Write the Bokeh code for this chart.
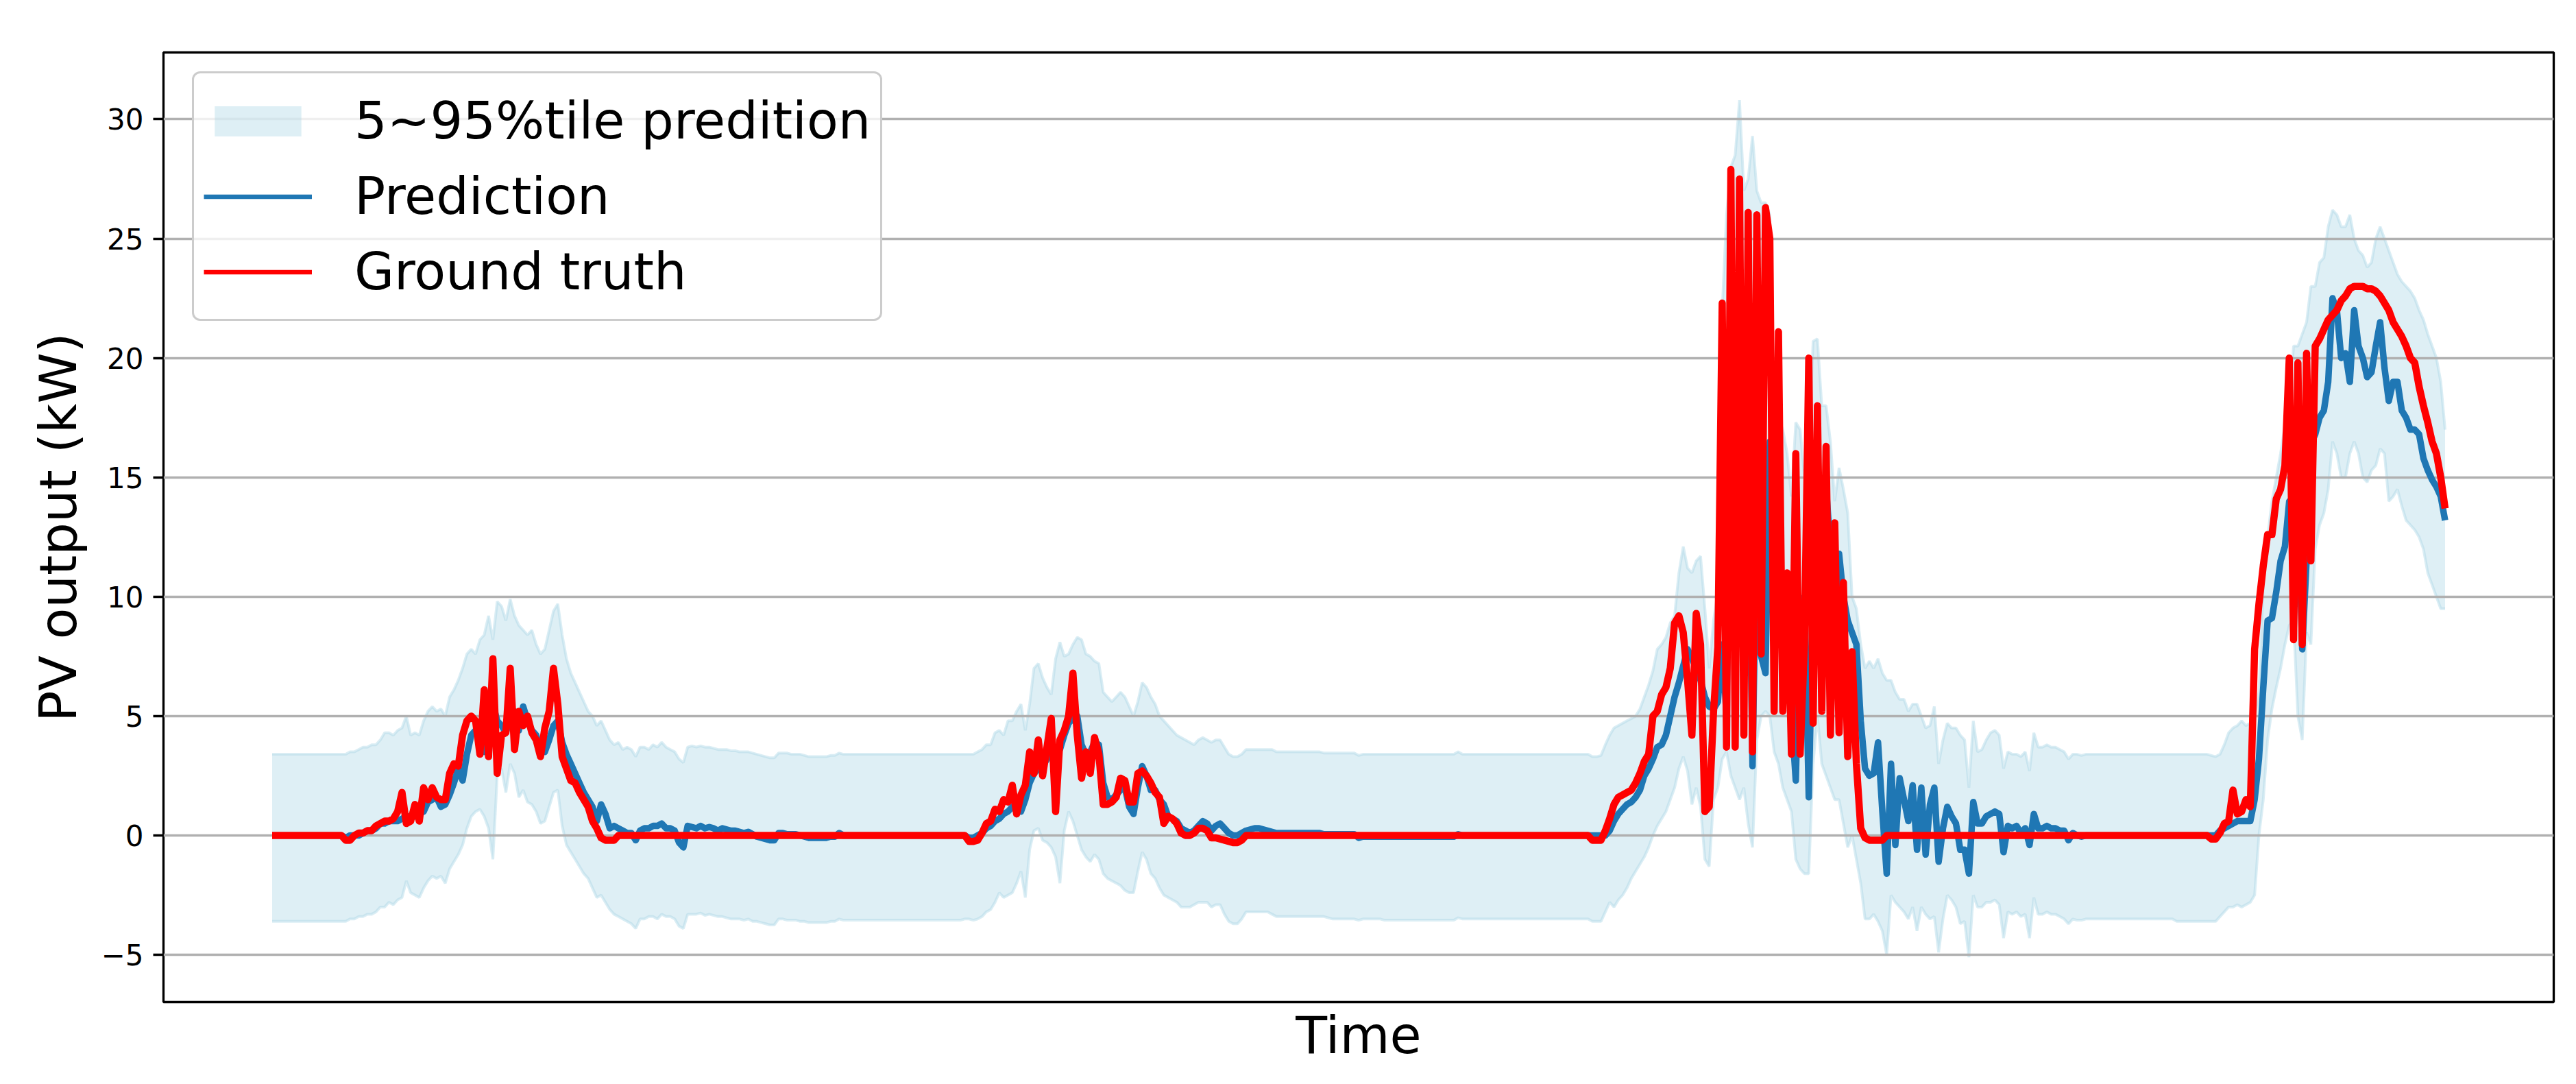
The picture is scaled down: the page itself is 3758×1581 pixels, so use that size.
import numpy as np
from bokeh.plotting import figure
from bokeh.models import ColumnDataSource, Range1d, FixedTicker, Legend, LegendItem
from bokeh.embed import file_html
from bokeh.resources import INLINE

# Time index: one step = 10 minutes; values in kW.
truth = [
0,0,0,0,0,0,0,0,0,0,
0,0,0,0,0,0,0,-0.2,-0.2,0.0,
0.1,0.1,0.2,0.2,0.4,0.5,0.6,0.6,0.7,1.0,
1.8,0.5,0.6,1.3,0.6,2.0,1.5,2.0,1.6,1.5,
1.5,2.6,3.0,2.9,4.2,4.8,5.0,4.8,3.4,6.1,
3.3,7.4,2.6,4.2,4.3,7.0,3.6,5.2,4.6,5.0,
4.3,4.0,3.3,4.5,5.2,7.0,5.5,3.3,2.8,2.3,
2.2,1.8,1.5,1.2,0.6,0.3,-0.1,-0.2,-0.2,-0.2,
0,0,0,0,0,0,0,0,0,0,
0,0,0,0,0,0,0,0,0,0,
0,0,0,0,0,0,0,0,0,0,
0,0,0,0,0,0,0,0,0,0,
0,0,0,0,0,0,0,0,0,0,
0,0,0,0,0,0,0,0,0,0,
0,0,0,0,0,0,0,0,0,0,
0,0,0,0,0,0,0,0,0,0,
0,-0.25,-0.25,-0.2,0.1,0.5,0.6,1.1,1.0,1.5,
1.4,2.1,0.9,1.7,2.1,3.5,2.6,4.0,2.5,3.7,
4.9,1.0,4.0,4.4,5.0,6.8,4.2,2.4,3.5,2.6,
4.1,3.4,1.3,1.3,1.4,1.6,2.4,2.3,1.4,1.4,
2.6,2.7,2.5,2.2,1.8,1.6,0.5,0.8,0.7,0.5,
0.1,0.0,0.0,0.1,0.3,0.3,0.2,-0.1,-0.1,-0.15,
-0.2,-0.25,-0.3,-0.3,-0.2,0,0,0,0,0,
0,0,0,0,0,0,0,0,0,0,
0,0,0,0,0,0,0,0,0,0,
0,0,0,0,0,0,0,0,0,0,
0,0,0,0,0,0,0,0,0,0,
0,0,0,0,0,0,0,0,0,0,
0,0,0,0,0,0,0,0,0,0,
0,0,0,0,0,0,0,0,0,0,
0,0,0,0,0,-0.2,-0.2,-0.2,0.2,0.7,
1.3,1.6,1.7,1.8,1.9,2.2,2.6,3.1,3.4,5.0,
5.2,5.9,6.2,7.0,8.9,9.2,8.5,6.5,4.2,9.3,
8.0,1.0,1.2,5.2,7.9,22.3,3.7,27.9,3.7,27.5,
4.2,26.1,3.5,26.0,7.6,26.3,25.0,5.2,21.1,5.2,
11.0,3.4,16.0,3.4,8.0,20.0,4.7,18.0,5.2,16.3,
4.2,13.1,4.3,10.6,3.3,7.7,3.0,0.3,-0.1,-0.2,
-0.2,-0.2,-0.2,0,0,0,0,0,0,0,
0,0,0,0,0,0,0,0,0,0,
0,0,0,0,0,0,0,0,0,0,
0,0,0,0,0,0,0,0,0,0,
0,0,0,0,0,0,0,0,0,0,
0,0,0,0,0,0,0,0,0,0,
0,0,0,0,0,0,0,0,0,0,
0,0,0,0,0,0,0,0,-0.15,-0.15,
0.1,0.5,0.6,1.9,0.9,1.0,1.5,1.2,7.8,9.7,
11.3,12.6,12.6,14.1,14.5,15.5,20.0,8.2,19.8,8.0,
20.2,11.5,20.5,20.8,21.2,21.6,21.8,22.0,22.4,22.6,
22.9,23.0,23.0,23.0,22.9,22.9,22.8,22.6,22.3,22.0,
21.5,21.2,20.9,20.5,20.0,19.8,18.8,18.0,17.3,16.5,
16.0,15.0,13.7,
]

pred = [
0,0,0,0,0,0,0,0,0,0,
0,0,0,0,0,0,0,-0.1,0.0,0.0,
0.0,0.1,0.2,0.2,0.3,0.5,0.5,0.6,0.6,0.6,
0.7,0.8,0.8,0.8,0.9,1.0,1.4,1.5,1.6,1.2,
1.3,1.7,2.2,2.8,2.3,3.4,4.2,4.4,4.5,3.5,
4.7,5.5,4.8,4.6,4.3,5.0,5.2,4.4,5.4,4.8,
4.4,4.2,3.6,3.5,4.0,4.6,4.8,3.9,3.4,3.0,
2.6,2.2,1.8,1.5,1.2,0.6,1.3,0.9,0.3,0.4,
0.3,0.2,0.1,0.1,-0.2,0.2,0.3,0.3,0.4,0.4,
0.5,0.3,0.3,0.2,-0.3,-0.5,0.4,0.35,0.3,0.4,
0.3,0.35,0.3,0.2,0.3,0.25,0.2,0.2,0.15,0.1,
0.15,0.05,-0.05,-0.1,-0.15,-0.2,-0.2,0.1,0.1,0.05,
0.05,0.05,0.0,-0.05,-0.1,-0.1,-0.1,-0.1,-0.1,-0.05,
-0.05,0.1,0,0,0,0,0,0,0,0,
0,0,0,0,0,0,0,0,0,0,
0,0,0,0,0,0,0,0,0,0,
0,-0.1,-0.1,0.0,0.1,0.3,0.4,0.6,0.7,0.9,
1.0,1.2,1.1,1.0,1.5,2.2,2.6,2.8,2.9,3.2,
3.8,3.5,3.6,4.2,4.7,4.9,5.0,3.8,3.4,3.5,
3.9,3.8,2.2,1.6,1.5,1.7,1.9,2.0,1.2,0.9,
2.0,2.9,2.5,1.9,1.9,1.5,1.3,0.8,0.7,0.6,
0.3,0.2,0.1,0.2,0.4,0.6,0.5,0.2,0.4,0.5,
0.3,0.1,0.0,0.0,0.1,0.2,0.25,0.3,0.3,0.25,
0.2,0.15,0.1,0.1,0.1,0.1,0.1,0.1,0.1,0.1,
0.1,0.1,0.1,0.05,0.05,0.05,0.05,0.05,0.05,0.05,
0.05,-0.1,-0.05,-0.05,-0.05,-0.05,-0.05,-0.05,-0.05,-0.05,
-0.05,-0.05,-0.05,-0.05,-0.05,-0.05,-0.05,-0.05,-0.05,-0.05,
-0.05,-0.05,-0.05,-0.05,0.05,0,0,0,0,0,
0,0,0,0,0,0,0,0,0,0,
0,0,0,0,0,0,0,0,0,0,
0,0,0,0,0,0,0,0,0.0,0.2,
0.6,0.9,1.1,1.3,1.4,1.6,1.9,2.5,2.8,3.2,
3.7,3.8,4.2,5.0,5.8,6.4,7.1,7.8,7.4,7.0,
6.5,5.8,5.4,5.3,5.6,8.0,5.0,20.0,18.0,24.0,
18.0,16.0,2.9,13.7,7.5,6.8,16.5,15.0,13.0,9.5,
9.0,5.0,2.3,9.5,10.0,1.6,10.0,14.5,14.0,14.6,
12.0,11.0,11.8,10.0,9.0,8.5,8.0,4.8,2.8,2.5,
2.6,3.9,1.0,-1.6,3.0,-0.4,2.4,1.5,0.6,2.1,
-0.6,2.0,-0.8,1.3,2.0,-1.1,0.3,1.2,0.8,0.5,
-0.6,-0.6,-1.6,1.4,0.5,0.5,0.8,0.9,1.0,0.9,
-0.7,0.4,0.3,0.4,0.1,0.3,-0.4,0.9,0.3,0.3,
0.4,0.3,0.3,0.2,0.2,-0.2,0.1,0.0,-0.05,0.0,
0,0,0,0,0,0,0,0,0,0,
0,0,0,0,0,0,0,0,0,0,
0,0,0,0,0,0,0,0,0,0,
0.2,0.3,0.4,0.5,0.6,0.6,0.6,0.6,1.5,3.2,
6.2,9.0,9.1,10.2,11.5,12.1,14.0,13.0,14.5,7.8,
11.5,16.4,16.8,17.5,17.8,19.0,22.5,22.0,20.0,20.2,
19.0,22.0,20.5,20.0,19.2,19.4,20.5,21.5,19.6,18.2,
19.0,19.0,17.8,17.5,17.0,17.0,16.8,15.8,15.3,14.9,
14.6,14.2,13.2,
]

upper = [
3.4,3.4,3.4,3.4,3.4,3.4,3.4,3.4,3.4,3.4,
3.4,3.4,3.4,3.4,3.4,3.4,3.4,3.4,3.5,3.5,
3.6,3.7,3.7,3.8,3.8,4.0,4.3,4.3,4.2,4.4,
4.5,5.0,4.2,4.3,4.2,4.8,5.2,5.4,5.2,5.3,
5.0,5.8,6.1,6.5,7.0,7.6,7.8,7.6,8.2,8.4,
9.2,8.2,9.8,9.6,9.0,9.9,9.2,8.8,8.6,8.4,
8.6,8.0,7.6,7.8,8.6,9.4,9.7,8.4,7.4,6.8,
6.4,6.0,5.6,5.2,5.0,4.6,4.8,4.4,4.0,3.8,
3.9,3.6,3.7,3.6,3.3,3.7,3.7,3.6,3.8,3.7,
3.9,3.7,3.6,3.5,3.2,3.05,3.7,3.75,3.7,3.75,
3.7,3.7,3.65,3.6,3.6,3.6,3.55,3.55,3.5,3.5,
3.5,3.45,3.4,3.35,3.3,3.25,3.25,3.45,3.45,3.45,
3.4,3.4,3.4,3.35,3.3,3.3,3.3,3.3,3.3,3.35,
3.35,3.45,3.4,3.4,3.4,3.4,3.4,3.4,3.4,3.4,
3.4,3.4,3.4,3.4,3.4,3.4,3.4,3.4,3.4,3.4,
3.4,3.4,3.4,3.4,3.4,3.4,3.4,3.4,3.4,3.4,
3.4,3.4,3.4,3.5,3.6,3.8,3.8,4.3,4.4,4.2,
4.8,4.8,5.2,5.5,4.4,5.5,7.0,7.2,6.6,6.2,
5.9,7.4,8.1,7.5,7.6,8.0,8.3,8.2,7.6,7.5,
7.3,7.2,6.0,5.8,5.6,5.8,6.0,5.8,5.4,5.0,
5.6,6.4,6.2,5.8,5.5,5.0,4.8,4.6,4.4,4.2,
4.1,4.0,3.9,3.8,4.0,4.1,4.0,3.9,4.0,4.0,
3.7,3.4,3.3,3.3,3.4,3.6,3.6,3.6,3.6,3.6,
3.6,3.6,3.5,3.5,3.5,3.5,3.5,3.5,3.5,3.5,
3.5,3.5,3.5,3.45,3.45,3.45,3.45,3.45,3.45,3.45,
3.45,3.35,3.4,3.4,3.4,3.4,3.4,3.4,3.4,3.4,
3.4,3.4,3.4,3.4,3.4,3.4,3.4,3.4,3.4,3.4,
3.4,3.4,3.4,3.4,3.5,3.4,3.4,3.4,3.4,3.4,
3.4,3.4,3.4,3.4,3.4,3.4,3.4,3.4,3.4,3.4,
3.4,3.4,3.4,3.4,3.4,3.4,3.4,3.4,3.4,3.4,
3.4,3.4,3.4,3.4,3.4,3.3,3.3,3.35,3.8,4.2,
4.5,4.6,4.7,4.8,4.9,5.0,5.3,5.8,6.3,6.9,
7.8,8.0,8.3,8.9,9.2,11.0,12.1,11.2,11.0,11.5,
11.7,9.5,7.0,9.0,10.2,22.0,26.0,28.0,28.5,30.8,
27.0,27.5,29.3,27.0,26.5,26.5,26.0,18.0,17.5,17.0,
16.0,14.2,17.3,17.0,15.0,16.0,20.7,20.8,18.0,18.0,
16.5,14.0,15.4,14.5,13.5,10.0,9.5,8.0,7.0,7.3,
7.0,7.4,6.8,6.5,6.5,6.0,5.7,5.7,5.2,5.5,
5.5,5.0,4.5,4.6,5.4,3.0,4.0,4.7,4.5,4.5,
4.2,4.0,2.0,4.8,3.5,3.6,4.0,4.3,4.4,4.2,
2.8,3.5,3.4,3.4,3.3,3.5,2.7,4.3,3.7,3.7,
3.8,3.7,3.7,3.6,3.5,3.2,3.4,3.4,3.35,3.4,
3.4,3.4,3.4,3.4,3.4,3.4,3.4,3.4,3.4,3.4,
3.4,3.4,3.4,3.4,3.4,3.4,3.4,3.4,3.4,3.4,
3.4,3.4,3.4,3.4,3.4,3.4,3.4,3.4,3.35,3.3,
3.4,3.8,4.3,4.5,4.6,4.8,4.6,4.7,5.0,6.0,
10.5,12.5,14.0,15.0,16.0,17.2,18.2,20.5,20.5,21.0,
21.5,23.0,23.0,24.0,24.2,25.5,26.2,26.0,25.5,25.5,
26.0,25.0,24.5,24.3,23.8,24.0,25.0,25.5,25.0,24.5,
24.0,23.5,23.2,23.0,22.8,22.5,22.0,21.6,21.0,20.5,
20.0,19.0,17.0,
]

lower = [
-3.6,-3.6,-3.6,-3.6,-3.6,-3.6,-3.6,-3.6,-3.6,-3.6,
-3.6,-3.6,-3.6,-3.6,-3.6,-3.6,-3.6,-3.6,-3.5,-3.5,
-3.4,-3.4,-3.3,-3.3,-3.2,-3.0,-3.0,-2.8,-2.9,-2.7,
-2.6,-1.9,-2.4,-2.5,-2.6,-2.2,-1.9,-1.7,-1.8,-1.7,
-2.0,-1.4,-1.1,-0.8,-0.4,0.3,0.8,1.0,1.1,0.8,
0.3,-1.0,2.5,2.8,1.8,3.0,2.6,1.6,1.9,1.4,
1.3,1.0,0.5,0.6,1.2,1.8,1.9,0.4,-0.4,-0.7,
-1.0,-1.3,-1.6,-1.8,-2.2,-2.6,-2.5,-2.8,-3.1,-3.3,
-3.4,-3.5,-3.6,-3.7,-3.9,-3.5,-3.5,-3.4,-3.4,-3.5,
-3.3,-3.4,-3.4,-3.5,-3.8,-3.9,-3.3,-3.3,-3.3,-3.25,
-3.35,-3.3,-3.35,-3.4,-3.4,-3.45,-3.5,-3.5,-3.5,-3.55,
-3.5,-3.6,-3.6,-3.65,-3.7,-3.75,-3.75,-3.5,-3.5,-3.55,
-3.55,-3.55,-3.6,-3.6,-3.65,-3.65,-3.65,-3.65,-3.65,-3.6,
-3.6,-3.5,-3.55,-3.55,-3.55,-3.55,-3.55,-3.55,-3.55,-3.55,
-3.55,-3.55,-3.55,-3.55,-3.55,-3.55,-3.55,-3.55,-3.55,-3.55,
-3.55,-3.55,-3.55,-3.55,-3.55,-3.55,-3.55,-3.55,-3.55,-3.55,
-3.5,-3.5,-3.55,-3.5,-3.4,-3.2,-3.1,-2.8,-2.4,-2.6,
-2.5,-2.4,-2.0,-1.5,-2.6,-0.6,0.2,0.3,-0.2,-0.3,
-0.5,-0.9,-2.0,0.2,1.0,0.6,0.0,-0.6,-0.9,-1.1,
-0.8,-1.0,-1.6,-1.8,-1.9,-2.0,-2.1,-2.3,-2.4,-2.4,
-1.5,-0.7,-1.0,-1.6,-1.8,-2.2,-2.5,-2.6,-2.7,-2.8,
-3.0,-3.0,-3.0,-2.9,-2.8,-2.8,-2.8,-3.0,-2.9,-2.9,
-3.3,-3.6,-3.7,-3.7,-3.5,-3.2,-3.2,-3.2,-3.2,-3.2,
-3.2,-3.3,-3.4,-3.4,-3.4,-3.4,-3.4,-3.4,-3.4,-3.4,
-3.4,-3.4,-3.4,-3.4,-3.45,-3.5,-3.5,-3.5,-3.5,-3.5,
-3.5,-3.55,-3.5,-3.5,-3.5,-3.5,-3.5,-3.55,-3.55,-3.55,
-3.55,-3.55,-3.55,-3.55,-3.55,-3.55,-3.55,-3.55,-3.55,-3.55,
-3.55,-3.55,-3.55,-3.55,-3.45,-3.5,-3.5,-3.5,-3.5,-3.5,
-3.5,-3.5,-3.5,-3.5,-3.5,-3.5,-3.5,-3.5,-3.5,-3.5,
-3.5,-3.5,-3.5,-3.5,-3.5,-3.5,-3.5,-3.5,-3.5,-3.5,
-3.5,-3.5,-3.5,-3.5,-3.5,-3.6,-3.6,-3.6,-3.2,-2.8,
-3.0,-2.7,-2.5,-2.2,-1.8,-1.5,-1.2,-0.9,-0.5,0.0,
0.4,0.7,1.0,1.5,2.0,2.8,3.3,2.7,1.3,2.0,
1.2,-1.0,-1.3,1.5,2.0,3.2,3.5,2.5,2.0,1.5,
2.0,0.5,-0.5,4.0,5.0,5.2,5.0,3.5,3.0,2.0,
1.5,1.0,-1.0,-1.4,-1.6,-1.6,3.0,5.0,3.0,2.5,
2.0,1.5,1.5,0.5,-0.5,0.0,-1.0,-2.0,-3.5,-3.5,
-3.3,-3.6,-4.0,-5.0,-2.5,-2.8,-3.0,-3.2,-3.5,-3.0,
-4.0,-3.0,-3.3,-3.5,-3.4,-4.9,-3.5,-2.5,-2.7,-3.0,
-3.7,-3.6,-5.1,-2.5,-3.0,-3.0,-2.8,-2.8,-2.7,-2.9,
-4.3,-3.2,-3.3,-3.2,-3.4,-3.3,-4.3,-2.6,-3.3,-3.3,
-3.2,-3.3,-3.3,-3.4,-3.5,-3.7,-3.5,-3.55,-3.55,-3.5,
-3.5,-3.5,-3.5,-3.5,-3.5,-3.5,-3.5,-3.5,-3.5,-3.5,
-3.5,-3.5,-3.5,-3.5,-3.5,-3.5,-3.5,-3.5,-3.5,-3.5,
-3.6,-3.6,-3.6,-3.6,-3.6,-3.6,-3.6,-3.6,-3.6,-3.6,
-3.4,-3.2,-3.0,-3.0,-2.9,-3.0,-2.9,-2.8,-2.5,0.0,
1.5,4.0,5.3,6.2,7.0,8.0,8.8,9.0,5.0,4.0,
8.5,8.0,12.0,13.0,13.5,14.5,16.5,16.0,15.0,15.0,
16.0,16.5,16.0,15.0,14.8,15.3,15.5,16.2,16.0,14.0,
14.2,14.5,13.8,13.2,13.0,12.8,12.5,12.0,11.0,10.5,
10.0,9.5,9.5,
]

y_ticks = [-5, 0, 5, 10, 15, 20, 25, 30]
band_label = "5~95%tile predition"
pred_label = "Prediction"
truth_label = "Ground truth"

n = len(truth)
if not (len(pred) == n and len(upper) == n and len(lower) == n):
    raise ValueError("lengths %d %d %d %d" % (len(truth), len(pred), len(upper), len(lower)))
t = list(range(n))

src = ColumnDataSource(dict(t=t, truth=truth, pred=pred, upper=upper, lower=lower))
# proxy source (a single missing value, draws nothing) used only for the legend swatches,
# so the legend strokes keep the thinner width seen in the reference legend
legend_src = ColumnDataSource(dict(t=np.array([np.nan]), truth=np.array([np.nan]),
                                   pred=np.array([np.nan])))

span = n - 1
p = figure(width=3750, height=1575, output_backend="svg", toolbar_location=None,
           x_range=Range1d(-0.05 * span, 1.05 * span), y_range=Range1d(-6.98, 32.8),
           min_border_left=238, min_border_right=25, min_border_top=76, min_border_bottom=114)
p.background_fill_color = "white"
p.border_fill_color = "white"
p.outline_line_color = "black"
p.outline_line_width = 3.3

band = p.varea(x="t", y1="lower", y2="upper", source=src, fill_color="#add8e6",
               fill_alpha=0.4, level="image")
p.line("t", "upper", source=src, line_color="#add8e6", line_alpha=0.45, line_width=4, level="image")
p.line("t", "lower", source=src, line_color="#add8e6", line_alpha=0.45, line_width=4, level="image")
pred_line = p.line("t", "pred", source=src, line_color="#1f77b4", line_width=9.5, line_join="round")
truth_line = p.line("t", "truth", source=src, line_color="#ff0000", line_width=10.5, line_join="round")

pl = p.line("t", "pred", source=legend_src, line_color="#1f77b4", line_width=6.5)
tl = p.line("t", "truth", source=legend_src, line_color="#ff0000", line_width=6.5)

# grid
p.xgrid.visible = False
p.ygrid.grid_line_color = "#b0b0b0"
p.ygrid.grid_line_width = 3.3

font = "DejaVu Sans"
# y axis
p.yaxis.ticker = FixedTicker(ticks=y_ticks)
p.yaxis.major_label_overrides = {-5: "\u22125"}
p.yaxis.axis_line_color = None
p.yaxis.minor_tick_line_color = None
p.yaxis.major_tick_out = 15
p.yaxis.major_tick_in = 0
p.yaxis.major_tick_line_width = 3.3
p.yaxis.major_tick_line_color = "black"
p.yaxis.major_label_standoff = 14
p.yaxis.major_label_text_font = font
p.yaxis.major_label_text_font_size = "42px"
p.yaxis.major_label_text_color = "black"
p.yaxis.axis_label = "PV output (kW)"
p.yaxis.axis_label_text_font = font
p.yaxis.axis_label_text_font_size = "75px"
p.yaxis.axis_label_text_font_style = "normal"
p.yaxis.axis_label_text_color = "black"
p.yaxis.axis_label_standoff = 16

# x axis
p.xaxis.ticker = FixedTicker(ticks=[])
p.xaxis.axis_line_color = None
p.xaxis.major_tick_line_color = None
p.xaxis.minor_tick_line_color = None
p.xaxis.major_tick_out = 0
p.xaxis.major_label_standoff = 0
p.xaxis.axis_label = "Time"
p.xaxis.axis_label_text_font = font
p.xaxis.axis_label_text_font_size = "75px"
p.xaxis.axis_label_text_font_style = "normal"
p.xaxis.axis_label_text_color = "black"
p.xaxis.axis_label_standoff = 4

legend = Legend(items=[LegendItem(label=band_label, renderers=[band]),
                       LegendItem(label=pred_label, renderers=[pl]),
                       LegendItem(label=truth_label, renderers=[tl])],
                location=(42, 1385 - 34 - 358), margin=0, padding=14, spacing=0,
                label_height=110, glyph_height=55, glyph_width=158, label_standoff=62,
                label_text_font=font, label_text_font_size="75px", label_text_color="black",
                border_line_color="#cccccc", border_line_width=3.3, border_line_alpha=1.0,
                background_fill_color="white", background_fill_alpha=0.8)
if "border_radius" in Legend.properties():
    legend.border_radius = 12
p.add_layout(legend)

open("out.html", "w").write(file_html(p, INLINE, title="PV output"))
